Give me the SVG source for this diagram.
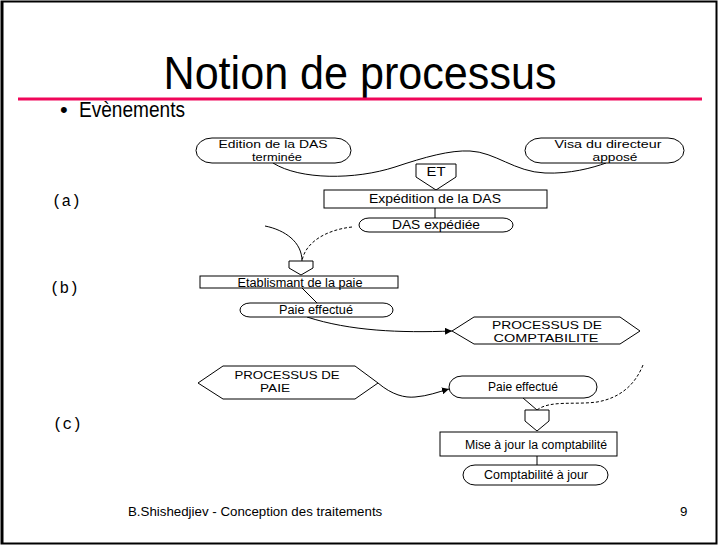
<svg xmlns="http://www.w3.org/2000/svg" width="719" height="546" viewBox="0 0 719 546">
<style>
  .t{font-family:"Liberation Sans",Arial,sans-serif;fill:#000}
  .s{font-size:12px;text-anchor:middle}
  .s2{font-size:11px;text-anchor:middle}
  .lab{font-family:"Liberation Mono","Courier New",monospace;font-size:16px;fill:#000}
  .shape{fill:#fff;stroke:#000;stroke-width:1}
  .conn{fill:none;stroke:#000;stroke-width:1}
  .dash{stroke-dasharray:3 2}
</style>
<defs>
  <marker id="arr" viewBox="0 0 10 10" refX="10" refY="5" markerWidth="7" markerHeight="7" orient="auto" markerUnits="userSpaceOnUse">
    <path d="M0,0 L10,5 L0,10 Z" fill="#000"/>
  </marker>
</defs>
<rect x="0" y="0" width="719" height="546" fill="#fff"/>
<rect x="1.5" y="1.5" width="715" height="542" fill="none" stroke="#000" stroke-width="2"/>
<line x1="2.5" y1="2" x2="2.5" y2="544" stroke="#000" stroke-width="2"/>

<text class="t" x="360" y="89" font-size="46" text-anchor="middle" textLength="393" lengthAdjust="spacingAndGlyphs">Notion de processus</text>
<line x1="18" y1="99" x2="702" y2="99" stroke="#F0065A" stroke-width="3"/>
<text class="t" x="60" y="117" font-size="22">•</text>
<text class="t" x="79" y="117" font-size="22" textLength="106" lengthAdjust="spacingAndGlyphs">Evènements</text>

<text class="lab" x="52" y="206">(a)</text>
<text class="lab" x="50" y="293">(b)</text>
<text class="lab" x="53" y="429">(c)</text>

<g id="connectors">
  <path class="conn" d="M273,163 C300,180 355,180 395,167 C425,157 450,150 470,151 C495,152 515,172 545,173 C570,174 592,168 606,163"/>
  <line class="conn" x1="435" y1="208" x2="435" y2="218"/>
  <path class="conn" d="M265,226 C285,230 302,242 302,261"/>
  <path class="conn dash" d="M352,227 C325,230 305,243 302,261"/>
  <line class="conn" x1="302" y1="288" x2="317" y2="303"/>
  <path class="conn" d="M307,317 C350,331 400,333 452,331" marker-end="url(#arr)"/>
  <path class="conn" d="M378,383 C392,395 405,398 415,397 C428,396 438,392 449,389" marker-end="url(#arr)"/>
  <line class="conn" x1="523" y1="398" x2="537" y2="410"/>
  <path class="conn dash" d="M643,365 C635,385 620,398 597,402 C575,405 550,400 537,410"/>
  <line class="conn" x1="537" y1="456" x2="537" y2="465"/>
</g>

<g id="edition">
  <rect class="shape" x="196" y="138" width="155" height="25" rx="16" ry="12.5"/>
  <text class="t s2" x="273" y="147.5" textLength="109" lengthAdjust="spacingAndGlyphs">Edition de la DAS</text>
  <text class="t s2" x="277" y="160.5" textLength="50" lengthAdjust="spacingAndGlyphs">terminée</text>
</g>
<g id="visa">
  <rect class="shape" x="525" y="138" width="159" height="25" rx="16" ry="12.5"/>
  <text class="t s2" x="608" y="147.5" textLength="107" lengthAdjust="spacingAndGlyphs">Visa du directeur</text>
  <text class="t s2" x="615" y="160.5" textLength="45" lengthAdjust="spacingAndGlyphs">apposé</text>
</g>
<g id="et">
  <path class="shape" d="M416,164 H456 V177 L436,190 L416,177 Z"/>
  <text class="t s" x="436" y="176" textLength="19" lengthAdjust="spacingAndGlyphs">ET</text>
</g>
<g id="expedition">
  <rect class="shape" x="324" y="190" width="223" height="18"/>
  <text class="t s" x="435" y="203" textLength="132" lengthAdjust="spacingAndGlyphs">Expédition de la DAS</text>
</g>
<g id="das-expediee">
  <rect class="shape" x="359" y="218" width="154" height="14" rx="10" ry="7"/>
  <text class="t s" x="436" y="229" textLength="88" lengthAdjust="spacingAndGlyphs">DAS expédiée</text>
</g>

<g id="sync-b">
  <path class="shape" d="M289,261 H313 V268 L301,275 L289,268 Z"/>
</g>
<g id="etablissement">
  <rect class="shape" x="200" y="276" width="198" height="12"/>
  <text class="t s" x="300" y="286.5" textLength="125" lengthAdjust="spacingAndGlyphs">Etablismant de la paie</text>
</g>
<g id="paie-b">
  <rect class="shape" x="240" y="303" width="153" height="14" rx="10" ry="7"/>
  <text class="t s" x="316" y="314" textLength="74" lengthAdjust="spacingAndGlyphs">Paie effectué</text>
</g>
<g id="proc-compta">
  <path class="shape" d="M452,331 L474,317 L620,317 L640,331 L620,344 L474,344 Z"/>
  <text class="t s2" x="547" y="329" textLength="110" lengthAdjust="spacingAndGlyphs">PROCESSUS DE</text>
  <text class="t s2" x="546" y="342" textLength="105" lengthAdjust="spacingAndGlyphs">COMPTABILITE</text>
</g>

<g id="proc-paie">
  <path class="shape" d="M198,383 L223,366 L355,366 L378,383 L355,399 L223,399 Z"/>
  <text class="t s2" x="287" y="378.5" textLength="105" lengthAdjust="spacingAndGlyphs">PROCESSUS DE</text>
  <text class="t s2" x="275" y="391.5" textLength="30" lengthAdjust="spacingAndGlyphs">PAIE</text>
</g>
<g id="paie-c">
  <rect class="shape" x="449" y="376" width="148" height="22" rx="13" ry="11"/>
  <text class="t s" x="523" y="391" textLength="70" lengthAdjust="spacingAndGlyphs">Paie effectué</text>
</g>
<g id="sync-c">
  <path class="shape" d="M525,410 H549 V421 L537,431 L525,421 Z"/>
</g>
<g id="maj">
  <rect class="shape" x="440" y="432" width="177" height="24"/>
  <text class="t s" x="536" y="449" textLength="142" lengthAdjust="spacingAndGlyphs">Mise à jour la comptabilité</text>
</g>
<g id="compta-a-jour">
  <rect class="shape" x="463" y="465" width="145" height="20" rx="12" ry="10"/>
  <text class="t s" x="536" y="478.5" textLength="104" lengthAdjust="spacingAndGlyphs">Comptabilité à jour</text>
</g>

<text class="t" x="128" y="516" font-size="13.3">B.Shishedjiev - Conception des traitements</text>
<text class="t" x="680" y="516" font-size="13.3">9</text>
</svg>
